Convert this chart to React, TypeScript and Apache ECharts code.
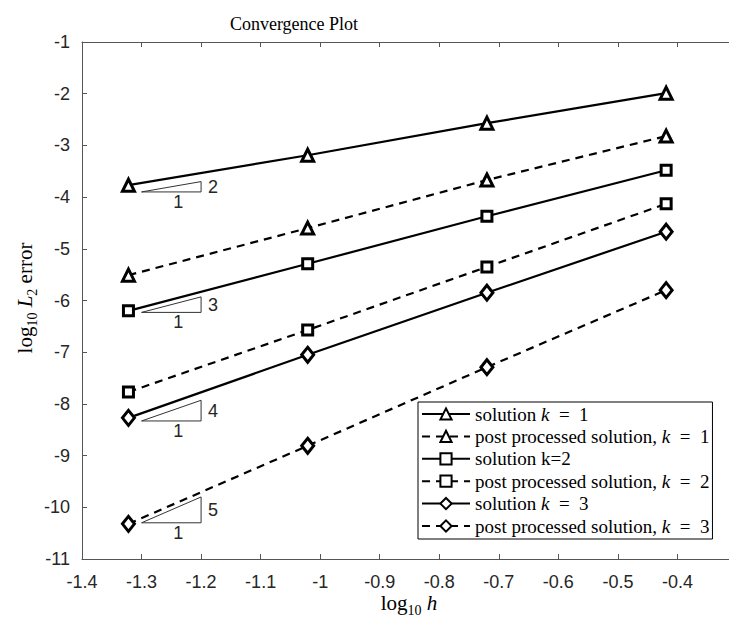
import React, { useEffect, useRef } from "react";
import * as echarts from "echarts";

const xTicks = [-1.4, -1.3, -1.2, -1.1, -1.0, -0.9, -0.8, -0.7, -0.6, -0.5, -0.4, -0.3];
const yTicks = [-11, -10, -9, -8, -7, -6, -5, -4, -3, -2, -1];
const logH = [-1.322, -1.021, -0.72, -0.419];
const sol1 = [-3.77, -3.19, -2.57, -1.99];
const post1 = [-5.51, -4.6, -3.67, -2.82];
const sol2 = [-6.2, -5.29, -4.37, -3.48];
const post2 = [-7.77, -6.57, -5.35, -4.13];
const sol3 = [-8.27, -7.05, -5.85, -4.67];
const post3 = [-10.32, -8.81, -7.29, -5.8];
const seriesNames = [
  "solution k = 1",
  "post processed solution, k = 1",
  "solution k=2",
  "post processed solution, k = 2",
  "solution k = 3",
  "post processed solution, k = 3",
];
const EQ = "\u2002=\u2002";
const legendRich = [
  `{t|solution }{k|k}{t|${EQ}1}`,
  `{t|post processed solution, }{k|k}{t|${EQ}1}`,
  "{t|solution k=2}",
  `{t|post processed solution, }{k|k}{t|${EQ}2}`,
  `{t|solution }{k|k}{t|${EQ}3}`,
  `{t|post processed solution, }{k|k}{t|${EQ}3}`,
];
// slope triangles
const slopeX0 = -1.3;
const slopeX1 = -1.2;
const slopeBase = [-3.9, -6.23, -8.33, -10.3];
const slopeRates = [2, 3, 4, 5];

const SERIF = "'Liberation Serif', 'Times New Roman', serif";
const SANS = "'Liberation Sans', Arial, sans-serif";

export default function App() {
  const ref = useRef<HTMLDivElement>(null);
  useEffect(() => {
    if (!ref.current) return;
    const chart = echarts.init(ref.current, null, { renderer: "svg" });
    const allData = [sol1, post1, sol2, post2, sol3, post3];
    const symbols = ["triangle", "triangle", "rect", "rect", "diamond", "diamond"];
    const sizes: any[] = [12, 12, 10, 10, [12, 15], [12, 15]];
    const fmt = (v: number) => String(parseFloat(v.toFixed(1)));
    const lineSeries = allData.map((d, i) => ({
      type: "line",
      name: seriesNames[i],
      data: d.map((y, j) => [logH[j], y]),
      symbol: symbols[i],
      symbolSize: sizes[i],
      showAllSymbol: true,
      lineStyle: { color: "#000", width: 2.2, type: i % 2 === 1 ? [8, 6] : "solid" },
      itemStyle: { color: "#fff", borderColor: "#000", borderWidth: 3 },
      z: 3,
    }));
    const slopeData = slopeBase.map((y0, i) => [slopeX0, y0, slopeX1, slopeRates[i]]);
    const slopeSeries = {
      type: "custom",
      data: slopeData,
      encode: { x: [0, 2], y: [1] },
      silent: true,
      z: 2,
      renderItem: (params: any, api: any) => {
        const x0 = api.value(0);
        const y0 = api.value(1);
        const x1 = api.value(2);
        const s = api.value(3);
        const p0 = api.coord([x0, y0]);
        const p1 = api.coord([x1, y0]);
        const p2 = api.coord([x1, y0 + s * (x1 - x0)]);
        const textEl = (t: string, x: number, y: number) => ({
          type: "text",
          x,
          y,
          style: {
            text: t,
            fill: "#262626",
            fontSize: 18,
            fontFamily: SANS,
            align: "center",
            verticalAlign: "middle",
            textAlign: "center",
            textVerticalAlign: "middle",
          },
        });
        return {
          type: "group",
          children: [
            {
              type: "polygon",
              shape: { points: [p0, p1, p2] },
              style: { fill: "none", stroke: "#333", lineWidth: 1 },
            },
            textEl(String(s), p1[0] + 12, (p1[1] + p2[1]) / 2),
            textEl("1", (p0[0] + p1[0]) / 2 + 7, p0[1] + 10),
          ],
        };
      },
    };
    const axisCommon = {
      type: "value",
      axisLine: { show: true, lineStyle: { color: "#555", width: 1 } },
      axisTick: { show: true, inside: true, length: 5, lineStyle: { color: "#555" } },
      splitLine: { show: false },
    };
    const nameRich = {
      m: { fontFamily: SERIF, fontSize: 21, lineHeight: 28 },
      i: { fontFamily: SERIF, fontSize: 21, fontStyle: "italic", lineHeight: 28 },
      s: { fontFamily: SERIF, fontSize: 14, lineHeight: 13, padding: [15, 0, 0, 0] },
    };
    chart.setOption({
      animation: false,
      backgroundColor: "#fff",
      grid: { left: 82, top: 42, width: 655, height: 517, containLabel: false, outerBoundsMode: "none" },
      xAxis: [
        {
          ...axisCommon,
          min: xTicks[0],
          max: xTicks[xTicks.length - 1],
          interval: 0.1,
          position: "bottom",
          axisLabel: {
            margin: 14,
            color: "#262626",
            fontSize: 18,
            fontFamily: SANS,
            formatter: fmt,
            showMaxLabel: false,
            showMinLabel: true,
          },
        },
        {
          ...axisCommon,
          min: xTicks[0],
          max: xTicks[xTicks.length - 1],
          interval: 0.1,
          position: "top",
          axisLabel: { show: false },
        },
      ],
      yAxis: [
        {
          ...axisCommon,
          min: yTicks[0],
          max: yTicks[yTicks.length - 1],
          interval: 1,
          position: "left",
          axisLabel: {
            margin: 12,
            color: "#262626",
            fontSize: 18,
            fontFamily: SANS,
            formatter: (v: number) => String(v),
          },
        },
        {
          ...axisCommon,
          min: yTicks[0],
          max: yTicks[yTicks.length - 1],
          interval: 1,
          position: "right",
          axisLabel: { show: false },
        },
      ],
      legend: {
        orient: "vertical",
        left: 418,
        top: 402,
        data: seriesNames,
        borderColor: "#000",
        borderWidth: 1,
        backgroundColor: "#fff",
        padding: [2, 3, 3, 3],
        itemWidth: 48,
        itemHeight: 14,
        itemGap: 2.4,
        selectedMode: false,
        formatter: (name: string) => legendRich[seriesNames.indexOf(name)],
        textStyle: {
          color: "#000",
          lineHeight: 20,
          rich: {
            t: { fontFamily: SERIF, fontSize: 19, color: "#000", lineHeight: 20 },
            k: { fontFamily: SERIF, fontSize: 19, fontStyle: "italic", color: "#000", lineHeight: 20 },
          },
        },
      },
      graphic: [
        {
          type: "text",
          x: 294,
          y: 24,
          style: {
            text: "Convergence Plot",
            fill: "#000",
            fontFamily: SERIF,
            fontSize: 18,
            align: "center",
            verticalAlign: "middle",
            textAlign: "center",
            textVerticalAlign: "middle",
          },
        },
        {
          type: "text",
          x: 409,
          y: 603,
          style: {
            text: "{m|log}{s|10}{m| }{i|h}",
            fill: "#000",
            align: "center",
            verticalAlign: "middle",
            textAlign: "center",
            textVerticalAlign: "middle",
            rich: nameRich,
          },
        },
        {
          type: "text",
          x: 25,
          y: 298,
          rotation: Math.PI / 2,
          style: {
            text: "{m|log}{s|10}{m| }{i|L}{s|2}{m| error}",
            fill: "#000",
            align: "center",
            verticalAlign: "middle",
            textAlign: "center",
            textVerticalAlign: "middle",
            rich: nameRich,
          },
        },
      ],
      series: [slopeSeries, ...lineSeries],
    });
    return () => chart.dispose();
  }, []);
  return <div ref={ref} style={{ width: 729, height: 622, position: "absolute", left: 0, top: 0 }} />;
}
